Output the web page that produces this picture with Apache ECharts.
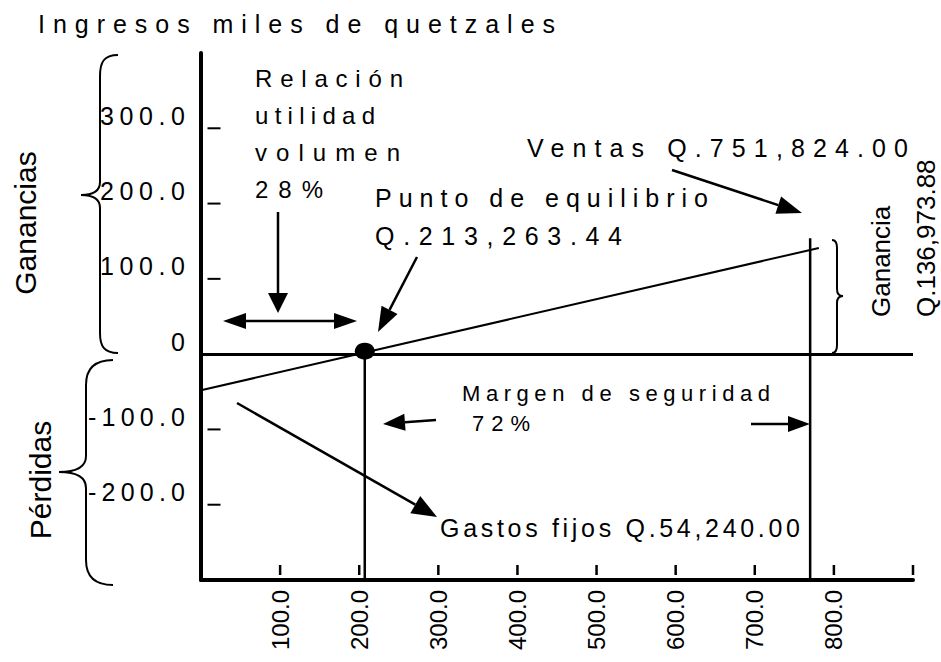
<!DOCTYPE html>
<html>
<head>
    <meta charset="UTF-8">
    <title>Punto de equilibrio</title>
    <script type="text/javascript" src="https://cdn.jsdelivr.net/npm/echarts@6.0.0/dist/echarts.min.js"></script>
    <style>
        body,html{
            margin: 0;
            padding: 0;
            background: #fff;
        }
        #chart{
            width: 941px;
            height: 662px;
        }
    </style>
</head>
<body>
<div id="chart"></div>
<script>
    // datos (miles de quetzales)
    var xTickValues = [100, 200, 300, 400, 500, 600, 700, 800, 900];
    var xTickLabels = ['100.0', '200.0', '300.0', '400.0', '500.0', '600.0', '700.0', '800.0'];
    var yTickValues = [300, 200, 100, 0, -100, -200];
    var yTickLabels = ['300.0', '200.0', '100.0', '0', '-100.0', '-200.0'];
    var yMarkValues = [300, 200, 100, -100, -200];
    var utilidadLine = [[0, -48], [781, 141]];      // recta utilidad-volumen
    var equilibrio = [207, 4];                      // punto de equilibrio
    var equilibrioLine = [[207, 0], [207, -300]];
    var ventasLine = [[770, 154], [770, -300]];

    var FONT = 'Liberation Sans, Arial, sans-serif';

    // ancho final de los textos espaciados
    var spacedWidths = {
        'Ingresos miles de quetzales': 517,
        'Relación': 148, 'utilidad': 120, 'volumen': 145, '28%': 68,
        'Punto de equilibrio': 333, 'Q.213,263.44': 247,
        'Ventas Q.751,824.00': 381,
        'Margen de seguridad': 308, '72%': 58,
        'Gastos fijos Q.54,240.00': 360,
        '300.0': 85, '200.0': 85, '100.0': 85, '-100.0': 97, '-200.0': 97
    };

    function arrow(x1, y1, x2, y2, len, wid, both) {
        var a = Math.atan2(y2 - y1, x2 - x1);
        var c = Math.cos(a), s = Math.sin(a);
        var nx = -s * wid / 2, ny = c * wid / 2;
        var bx = x2 - len * c, by = y2 - len * s;
        var sx = both ? x1 + len * c : x1, sy = both ? y1 + len * s : y1;
        var out = [
            {type: 'line', shape: {x1: sx, y1: sy, x2: bx, y2: by}, style: {stroke: '#000', lineWidth: 2.5}},
            {type: 'polygon', shape: {points: [[x2, y2], [bx + nx, by + ny], [bx - nx, by - ny]]}, style: {fill: '#000'}}
        ];
        if (both) {
            out.push({type: 'polygon', shape: {points: [[x1, y1], [sx + nx, sy + ny], [sx - nx, sy - ny]]}, style: {fill: '#000'}});
        }
        return out;
    }

    function txt(text, x, y, size, opts) {
        opts = opts || {};
        return {
            type: 'text',
            x: x, y: y,
            rotation: opts.rotation || 0,
            style: {
                text: text,
                fontSize: size,
                fontFamily: FONT,
                fill: '#000',
                textAlign: opts.align || 'left',
                textVerticalAlign: opts.valign || 'middle',
                lineHeight: opts.lineHeight
            }
        };
    }

    // llave: lista de puntos [inicio, (c1, c2, fin) | fin ...]
    function brace(segs) {
        var out = [];
        var px = segs[0][0], py = segs[0][1];
        var st = {stroke: '#000', lineWidth: 2, fill: null};
        for (var i = 1; i < segs.length; i++) {
            var sg = segs[i];
            if (sg.length === 6) {
                out.push({type: 'bezierCurve', shape: {x1: px, y1: py, cpx1: sg[0], cpy1: sg[1], cpx2: sg[2], cpy2: sg[3], x2: sg[4], y2: sg[5]}, style: st});
                px = sg[4]; py = sg[5];
            } else {
                out.push({type: 'line', shape: {x1: px, y1: py, x2: sg[0], y2: sg[1]}, style: st});
                px = sg[0]; py = sg[1];
            }
        }
        return out;
    }

    var graphics = [];
    graphics = graphics.concat(
        brace([[118, 55], [104, 55, 100, 62, 100, 76], [100, 182], [100, 191, 94, 195, 81, 195], [94, 195, 100, 199, 100, 208], [100, 333], [100, 346, 104, 353, 118, 353]]),
        brace([[113, 360], [95, 360, 86, 368, 86, 385], [86, 456], [86, 466, 78, 472, 59, 472], [78, 472, 86, 478, 86, 488], [86, 560], [86, 577, 95, 585, 113, 585]]),
        brace([[832, 240], [836, 240, 837, 243, 837, 248], [837, 289], [837, 294, 839, 296, 843, 296], [839, 296, 837, 298, 837, 303], [837, 345], [837, 350, 836, 353, 832, 353]])
    );
    // flechas
    graphics = graphics.concat(
        arrow(278, 212, 278, 313, 20, 20),
        arrow(223, 321, 357, 321, 23, 16, true),
        arrow(417, 257, 378, 332, 25, 18),
        arrow(672, 170, 802, 213, 25, 18),
        arrow(436, 420, 383, 424, 22, 17),
        arrow(751, 424, 810, 424, 22, 16),
        arrow(237, 403, 437, 517, 25, 20)
    );
    // textos
    graphics.push(txt('Ganancias', 25, 223, 30, {align: 'center', rotation: Math.PI / 2}));
    graphics.push(txt('Pérdidas', 40, 480, 30, {align: 'center', rotation: Math.PI / 2}));
    graphics.push(txt('Ganancia', 881, 317, 26, {rotation: Math.PI / 2}));
    graphics.push(txt('Q.136,973.88', 926, 317, 26, {rotation: Math.PI / 2}));
    graphics.push(txt('Relación\nutilidad\nvolumen\n28%', 255, 60, 24, {valign: 'top', lineHeight: 37}));
    graphics.push(txt('Punto de equilibrio\nQ.213,263.44', 375, 179, 25, {valign: 'top', lineHeight: 38}));
    graphics.push(txt('Ventas Q.751,824.00', 527, 148, 25));
    graphics.push(txt('Margen de seguridad', 462, 393, 22));
    graphics.push(txt('72%', 472, 423, 22));
    graphics.push(txt('Gastos fijos Q.54,240.00', 440, 528, 25));

    var chart = echarts.init(document.getElementById('chart'), null, {renderer: 'svg'});

    var option = {
        animation: false,
        backgroundColor: '#fff',
        textStyle: {fontFamily: FONT, color: '#000'},
        title: {
            text: 'Ingresos miles de quetzales',
            left: 38,
            top: 11,
            padding: 0,
            textStyle: {fontSize: 25, fontWeight: 'normal', color: '#000', fontFamily: FONT}
        },
        grid: {left: 201, right: 28, top: 53, bottom: 82, containLabel: false, outerBoundsMode: 'none'},
        xAxis: {
            type: 'value',
            min: 0,
            max: 900,
            interval: 100,
            axisLine: {onZero: false, lineStyle: {color: '#000', width: 4}},
            axisTick: {show: false},
            splitLine: {show: false},
            axisLabel: {
                rotate: 90,
                margin: 10,
                fontSize: 24,
                color: '#000',
                fontFamily: FONT,
                formatter: function (v) {
                    var i = xTickValues.indexOf(v);
                    return i >= 0 && i < xTickLabels.length ? xTickLabels[i] : '';
                }
            }
        },
        yAxis: {
            type: 'value',
            min: -300,
            max: 400,
            interval: 100,
            axisLine: {show: true, onZero: false, lineStyle: {color: '#000', width: 4}},
            axisTick: {show: false},
            splitLine: {show: false},
            axisLabel: {
                margin: 16,
                fontSize: 25,
                lineHeight: 25,
                color: '#000',
                fontFamily: FONT,
                verticalAlign: 'bottom',
                formatter: function (v) {
                    var i = yTickValues.indexOf(v);
                    return i >= 0 ? yTickLabels[i] : '';
                }
            }
        },
        graphic: {elements: graphics},
        series: [
            {
                name: 'Utilidad',
                type: 'line',
                data: utilidadLine,
                symbol: 'none',
                lineStyle: {color: '#000', width: 2},
                silent: true,
                markLine: {
                    silent: true,
                    symbol: ['none', 'none'],
                    label: {show: false},
                    lineStyle: {color: '#000', width: 3, type: 'solid'},
                    data: [{yAxis: 0}]
                }
            },
            {
                name: 'Equilibrio',
                type: 'line',
                data: equilibrioLine,
                symbol: 'none',
                lineStyle: {color: '#000', width: 2.5},
                silent: true
            },
            {
                name: 'Ventas',
                type: 'line',
                data: ventasLine,
                symbol: 'none',
                lineStyle: {color: '#000', width: 2.5},
                silent: true
            },
            {
                name: 'Punto',
                type: 'scatter',
                data: [equilibrio],
                symbol: 'circle',
                symbolSize: [20, 17],
                itemStyle: {color: '#000', opacity: 1},
                silent: true
            },
            {
                name: 'MarcasX',
                type: 'scatter',
                clip: false,
                data: xTickValues.map(function (v) { return [v, -300]; }),
                symbol: 'rect',
                symbolSize: [2.5, 10],
                symbolOffset: [0, -10],
                itemStyle: {color: '#000', opacity: 1},
                silent: true
            },
            {
                name: 'MarcasY',
                type: 'scatter',
                clip: false,
                data: yMarkValues.map(function (v) { return [0, v]; }),
                symbol: 'rect',
                symbolSize: [13, 2],
                symbolOffset: [13, 0],
                itemStyle: {color: '#000', opacity: 1},
                silent: true
            }
        ]
    };

    chart.setOption(option);

    // espaciado de letras como en el original
    function spreadText() {
        var texts = document.querySelectorAll('#chart svg text');
        for (var i = 0; i < texts.length; i++) {
            var t = texts[i];
            var w = spacedWidths[t.textContent];
            var m = t.getCTM();
            if (w && m && Math.abs(m.b) < 1e-6) {
                t.setAttribute('textLength', w);
                t.setAttribute('lengthAdjust', 'spacing');
            }
        }
    }
    spreadText();
    chart.on('finished', spreadText);
</script>
</body>
</html>
